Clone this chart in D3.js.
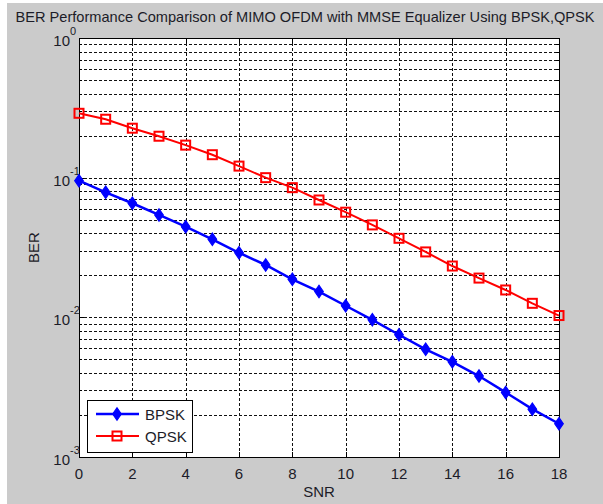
<!DOCTYPE html>
<html>
<head>
<meta charset="utf-8">
<script src="https://cdn.jsdelivr.net/npm/d3@7"></script>
<style>
  body { margin: 0; background: #fff; }
  svg text { font-family: "Liberation Sans", Arial, sans-serif; fill: #1c1c28; }
</style>
</head>
<body>
<svg id="chart" width="603" height="504"></svg>
<script>
// data
var snr = [0, 1, 2, 3, 4, 5, 6, 7, 8, 9, 10, 11, 12, 13, 14, 15, 16, 17, 18];
var berBpsk = [0.0952, 0.0786, 0.0656, 0.0541, 0.0446, 0.0362, 0.0290, 0.0237, 0.0187, 0.0153,
               0.0121, 0.0096, 0.0075, 0.0059, 0.0048, 0.0038, 0.0029, 0.0022, 0.00173];
var berQpsk = [0.289, 0.262, 0.226, 0.198, 0.171, 0.146, 0.121, 0.100, 0.0848, 0.0692,
               0.0566, 0.0459, 0.0368, 0.0294, 0.0233, 0.0191, 0.0157, 0.0126, 0.0103];
var xTicks = [0, 2, 4, 6, 8, 10, 12, 14, 16, 18];
var yDecades = [0, -1, -2, -3];
var seriesNames = ["BPSK", "QPSK"];

var svg = d3.select("#chart");
var W = 603, H = 504;
var m = {left: 79, right: 44, top: 38, bottom: 47};

// figure background
svg.append("rect").attr("x", 7).attr("y", 3).attr("width", W - 7).attr("height", H - 3)
  .attr("fill", "#cbcbcb");

var x = d3.scaleLinear().domain([0, 18]).range([m.left, W - m.right]);
var y = d3.scaleLog().domain([1e-3, 1]).range([H - m.bottom, m.top]);

svg.append("rect")
  .attr("x", x(0)).attr("y", y(1))
  .attr("width", x(18) - x(0)).attr("height", y(1e-3) - y(1))
  .attr("fill", "#fff");

// grid
var minorVals = [];
for (var e = -3; e < 0; e++) {
  for (var k = 1; k <= 9; k++) minorVals.push(k * Math.pow(10, e));
}
var grid = svg.append("g").attr("stroke", "#111").attr("stroke-width", 1)
  .attr("stroke-dasharray", "3,2").attr("shape-rendering", "crispEdges");
grid.selectAll("line.h").data(minorVals.filter(function (v) { return v > 1e-3; }))
  .enter().append("line")
  .attr("x1", x(0)).attr("x2", x(18))
  .attr("y1", function (d) { return Math.round(y(d)) + 0.5; })
  .attr("y2", function (d) { return Math.round(y(d)) + 0.5; });
grid.selectAll("line.v").data(xTicks.slice(1, -1))
  .enter().append("line")
  .attr("y1", y(1)).attr("y2", y(1e-3))
  .attr("x1", function (d) { return Math.round(x(d)) + 0.5; })
  .attr("x2", function (d) { return Math.round(x(d)) + 0.5; });

// inside ticks
var ticks = svg.append("g").attr("stroke", "#000").attr("shape-rendering", "crispEdges");
xTicks.forEach(function (t) {
  var xx = Math.round(x(t)) + 0.5;
  ticks.append("line").attr("x1", xx).attr("x2", xx).attr("y1", y(1e-3)).attr("y2", y(1e-3) - 5);
  ticks.append("line").attr("x1", xx).attr("x2", xx).attr("y1", y(1)).attr("y2", y(1) + 5);
});
minorVals.forEach(function (v) {
  var yy = Math.round(y(v)) + 0.5;
  var len = (Math.log10(v) % 1 === 0) ? 5 : 3;
  ticks.append("line").attr("x1", x(0)).attr("x2", x(0) + len).attr("y1", yy).attr("y2", yy);
  ticks.append("line").attr("x1", x(18)).attr("x2", x(18) - len).attr("y1", yy).attr("y2", yy);
});

// axes box
svg.append("rect")
  .attr("x", Math.round(x(0)) + 0.5).attr("y", Math.round(y(1)) + 0.5)
  .attr("width", Math.round(x(18) - x(0))).attr("height", Math.round(y(1e-3) - y(1)))
  .attr("fill", "none").attr("stroke", "#000").attr("stroke-width", 1);

// tick labels
svg.append("g").selectAll("text").data(xTicks).enter().append("text")
  .attr("x", function (d) { return x(d); }).attr("y", y(1e-3) + 22)
  .attr("text-anchor", "middle").attr("font-size", 15)
  .text(function (d) { return d; });

var yl = svg.append("g").selectAll("g").data(yDecades).enter().append("g")
  .attr("transform", function (d) { return "translate(" + (x(0) - 4) + "," + y(Math.pow(10, d)) + ")"; });
yl.append("text").attr("x", -5).attr("y", 8).attr("text-anchor", "end").attr("font-size", 15).text("10");
yl.append("text").attr("x", -5).attr("y", -3).attr("text-anchor", "start").attr("font-size", 11)
  .text(function (d) { return d; });

// axis labels and title
svg.append("text").attr("x", (x(0) + x(18)) / 2).attr("y", 497)
  .attr("text-anchor", "middle").attr("font-size", 15).text("SNR");
svg.append("text").attr("transform", "translate(39," + y(Math.sqrt(1e-3)) + ") rotate(-90)")
  .attr("text-anchor", "middle").attr("font-size", 15).text("BER");
svg.append("text").attr("x", 305).attr("y", 22)
  .attr("text-anchor", "middle").attr("font-size", 14.6)
  .text("BER Performance Comparison of MIMO OFDM with MMSE Equalizer Using BPSK,QPSK");

// series
var line = d3.line()
  .x(function (d, i) { return x(snr[i]); })
  .y(function (d) { return y(d); });

svg.append("path").datum(berQpsk).attr("d", line)
  .attr("fill", "none").attr("stroke", "#ff0000").attr("stroke-width", 2);
svg.append("g").selectAll("rect").data(berQpsk).enter().append("rect")
  .attr("x", function (d, i) { return x(snr[i]) - 4.5; })
  .attr("y", function (d) { return y(d) - 4.5; })
  .attr("width", 9).attr("height", 9)
  .attr("fill", "none").attr("stroke", "#ff0000").attr("stroke-width", 2);

var diamond = d3.symbol().type(d3.symbolDiamond).size(45);
svg.append("path").datum(berBpsk).attr("d", line)
  .attr("fill", "none").attr("stroke", "#0000ff").attr("stroke-width", 2.5);
svg.append("g").selectAll("path").data(berBpsk).enter().append("path")
  .attr("d", diamond)
  .attr("transform", function (d, i) { return "translate(" + x(snr[i]) + "," + y(d) + ") scale(1.2,1)"; })
  .attr("fill", "#0000ff").attr("stroke", "#0000ff").attr("stroke-width", 1);

// legend
var lg = svg.append("g").attr("transform", "translate(87,400)");
lg.append("rect").attr("x", 0.5).attr("y", 0.5).attr("width", 105).attr("height", 52)
  .attr("fill", "#fff").attr("stroke", "#000").attr("stroke-width", 1);
var rows = lg.selectAll("g.row").data(seriesNames).enter().append("g")
  .attr("transform", function (d, i) { return "translate(0," + (14 + i * 22) + ")"; });
rows.append("line").attr("x1", 9).attr("x2", 52).attr("y1", 0).attr("y2", 0)
  .attr("stroke", function (d, i) { return i === 0 ? "#0000ff" : "#ff0000"; })
  .attr("stroke-width", function (d, i) { return i === 0 ? 2.5 : 2; });
rows.filter(function (d, i) { return i === 0; }).append("path")
  .attr("d", diamond).attr("transform", "translate(30,0) scale(1.2,1)")
  .attr("fill", "#0000ff").attr("stroke", "#0000ff");
rows.filter(function (d, i) { return i === 1; }).append("rect")
  .attr("x", 25.5).attr("y", -4.5).attr("width", 9).attr("height", 9)
  .attr("fill", "none").attr("stroke", "#ff0000").attr("stroke-width", 2);
rows.append("text").attr("x", 58).attr("y", 6).attr("font-size", 15)
  .text(function (d) { return d; });
</script>
</body>
</html>
